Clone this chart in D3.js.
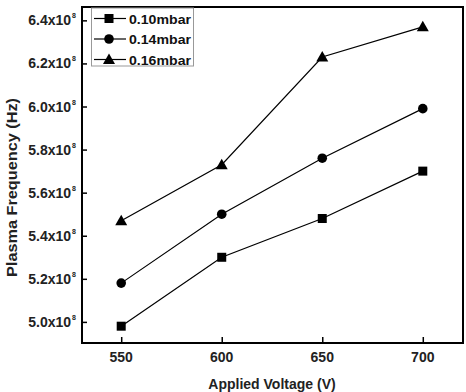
<!DOCTYPE html>
<html>
<head>
<meta charset="utf-8">
<script src="https://cdn.jsdelivr.net/npm/d3@7"></script>
<style>
body { margin: 0; background: #fff; }
text { font-family: Arial, "Liberation Sans", sans-serif; font-weight: bold; }
</style>
</head>
<body>
<div id="chart"></div>
<script>
var voltages = [550, 600, 650, 700];
var series_names = ["0.10mbar", "0.14mbar", "0.16mbar"];
var series_symbols = ["square", "circle", "triangle"];
// values in units of 10^8 Hz
var p010 = [4.98, 5.30, 5.48, 5.70];
var p014 = [5.18, 5.50, 5.76, 5.99];
var p016 = [5.47, 5.73, 6.23, 6.37];
var y_ticks = [5.0, 5.2, 5.4, 5.6, 5.8, 6.0, 6.2, 6.4];
var x_ticks = [550, 600, 650, 700];

var width = 466, height = 392;
var margin = {left: 82, top: 7, right: 3, bottom: 49};

var svg = d3.select("#chart").append("svg")
	.attr("width", width)
	.attr("height", height);

var x = d3.scaleLinear().domain([530.5, 720]).range([margin.left, width - margin.right]);
var y = d3.scaleLinear().domain([4.902, 6.462]).range([height - margin.bottom, margin.top]);

var all = [p010, p014, p016];

// frame
svg.append("rect")
	.attr("x", margin.left)
	.attr("y", margin.top)
	.attr("width", width - margin.right - margin.left)
	.attr("height", height - margin.bottom - margin.top)
	.attr("fill", "none")
	.attr("stroke", "#000")
	.attr("stroke-width", 2);

// y axis, ticks inside
var yAxis = svg.append("g")
	.attr("transform", "translate(" + margin.left + ",0)")
	.call(d3.axisRight(y).tickValues(y_ticks).tickSize(5).tickFormat(""));
yAxis.select(".domain").remove();
yAxis.selectAll(".tick line").attr("stroke-width", 1.5);

var yl = svg.append("g").selectAll("text")
	.data(y_ticks)
	.enter().append("text")
	.attr("x", 76)
	.attr("y", function(d) { return y(d) + 5; })
	.attr("text-anchor", "end")
	.attr("font-size", 14)
	.attr("fill", "#222");
yl.append("tspan").text(function(d) { return d.toFixed(1) + "x10"; });
yl.append("tspan")
	.attr("dx", 1)
	.attr("dy", -7)
	.attr("font-size", 7)
	.text("8");

// x axis, ticks inside
var xAxis = svg.append("g")
	.attr("transform", "translate(0," + (height - margin.bottom) + ")")
	.call(d3.axisTop(x).tickValues(x_ticks).tickSize(6).tickFormat(""));
xAxis.select(".domain").remove();
xAxis.selectAll(".tick line").attr("stroke-width", 1.5);

svg.append("g").selectAll("text")
	.data(x_ticks)
	.enter().append("text")
	.attr("x", function(d) { return x(d); })
	.attr("y", 362)
	.attr("text-anchor", "middle")
	.attr("font-size", 14)
	.attr("fill", "#222")
	.text(function(d) { return d; });

// titles
svg.append("text")
	.attr("x", 272)
	.attr("y", 389)
	.attr("text-anchor", "middle")
	.attr("font-size", 14)
	.attr("fill", "#222")
	.text("Applied Voltage (V)");

svg.append("text")
	.attr("transform", "translate(17,187.5) rotate(-90)")
	.attr("text-anchor", "middle")
	.attr("font-size", 14)
	.attr("textLength", 179)
	.attr("lengthAdjust", "spacingAndGlyphs")
	.attr("fill", "#222")
	.text("Plasma Frequency (Hz)");

function marker(g, kind) {
	if (kind == "square") {
		g.append("rect").attr("x", -4.5).attr("y", -4.5).attr("width", 9).attr("height", 9).attr("fill", "#000");
	} else if (kind == "circle") {
		g.append("circle").attr("r", 4.8).attr("fill", "#000");
	} else {
		g.append("path").attr("d", "M0,-6L6,4.5L-6,4.5Z").attr("fill", "#000");
	}
}

var line = d3.line()
	.x(function(d, i) { return x(voltages[i]); })
	.y(function(d) { return y(d); });

all.forEach(function(vals, s) {
	svg.append("path")
		.attr("d", line(vals))
		.attr("fill", "none")
		.attr("stroke", "#000")
		.attr("stroke-width", 1.2);
	vals.forEach(function(v, i) {
		var g = svg.append("g").attr("transform", "translate(" + x(voltages[i]) + "," + y(v) + ")");
		marker(g, series_symbols[s]);
	});
});

// legend
var lg = svg.append("g");
lg.append("rect")
	.attr("x", 91.5)
	.attr("y", 8)
	.attr("width", 102)
	.attr("height", 58)
	.attr("fill", "#fff")
	.attr("stroke", "#999")
	.attr("stroke-width", 1);
series_names.forEach(function(name, s) {
	var ly = 18.5 + s * 20.5;
	lg.append("line")
		.attr("x1", 94).attr("x2", 126)
		.attr("y1", ly).attr("y2", ly)
		.attr("stroke", "#000")
		.attr("stroke-width", 1.2);
	marker(lg.append("g").attr("transform", "translate(109," + ly + ")"), series_symbols[s]);
	lg.append("text")
		.attr("x", 129)
		.attr("y", ly + 5)
		.attr("font-size", 13)
		.attr("textLength", 62)
		.attr("lengthAdjust", "spacingAndGlyphs")
		.attr("fill", "#111")
		.text(name);
});
</script>
</body>
</html>
